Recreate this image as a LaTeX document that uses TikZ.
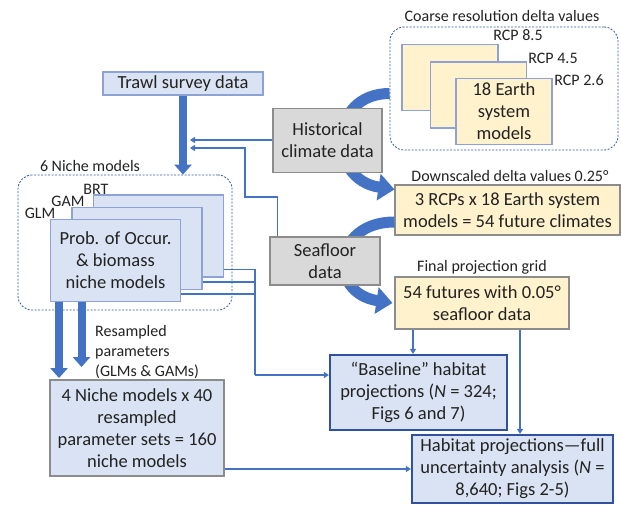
\documentclass[tikz,border=0pt]{standalone}
\usepackage{fontspec}
\setmainfont{Carlito}
\usetikzlibrary{arrows.meta}

\definecolor{nicheblue}{HTML}{DAE3F3}
\definecolor{arrowblue}{HTML}{4472C4}
\definecolor{frameblue}{HTML}{3050A0}
\definecolor{edgeblue}{HTML}{8EA2D6}
\definecolor{climgrey}{HTML}{D9D9D9}
\definecolor{edgegrey}{HTML}{8C8C8C}
\definecolor{deltayellow}{HTML}{FFF2CC}
\definecolor{inkgrey}{HTML}{222222}

\tikzset{
  box/.style={align=center, inner sep=0pt, line width=1.1pt},
  bluebox/.style={box, draw=edgeblue, fill=nicheblue},
  greybox/.style={box, draw=edgegrey, fill=climgrey},
  yellowbox/.style={box, draw=edgegrey, fill=deltayellow},
  rcpbox/.style={box, draw=edgeblue, fill=deltayellow},
  resultbox/.style={box, draw=frameblue, fill=nicheblue, line width=2.2pt},
  groupbox/.style={draw=arrowblue!80!black, dash pattern=on 2pt off 1.5pt, line width=0.8pt, rounded corners=14pt, inner sep=0pt},
  captext/.style={font=\fontsize{16}{20}\selectfont, inner sep=0pt},
  thinline/.style={draw=arrowblue, line width=1.5pt},
  thinarrow/.style={thinline, -{Triangle[length=5pt,width=6pt]}},
  fatarrow/.style={draw=arrowblue, line width=8pt, -{Triangle[length=10pt,width=17pt]}},
  bendarrow/.style={draw=arrowblue, line width=11pt, -{Triangle[length=16pt,width=26pt]}},
}

\begin{document}
\begin{tikzpicture}[x=1pt, y=-1pt, font=\fontsize{18.5}{22}\selectfont, text=inkgrey]
    \useasboundingbox (0,0) rectangle (621,505);

    % Trawl survey
    \node[bluebox, minimum width=160pt, minimum height=23pt] (trawl) at (183,83.5) {Trawl survey data};

    % Niche models
    \node[groupbox, minimum width=214pt, minimum height=135pt] (nichegroup) at (125,242.5) {};
    \node[captext] (nichecap) at (90,166) {6 Niche models};
    \foreach \n/\x/\y/\t in {brt/158.5/236/{}, gam/137/248.5/{}, glm/115.5/260.5/{Prob. of Occur.\\\& biomass\\niche models}}{
        \node[bluebox, minimum width=130pt, minimum height=82pt] (\n) at (\x,\y) {\t};
    }
    \foreach \t/\x/\y in {BRT/96/189, GAM/68/201, GLM/40/213}{
        \node[captext] (lab\t) at (\x,\y) {\t};
    }

    % Resampled
    \node[bluebox, draw=edgegrey, minimum width=174pt, minimum height=96pt] (resampled) at (137,428) {4 Niche models x 40\\resampled\\parameter sets = 160\\niche models};
    \node[captext, align=left, anchor=west] (resampcap) at (95,352) {Resampled\\parameters\\(GLMs \& GAMs)};

    % Coarse deltas
    \node[groupbox, minimum width=228pt, minimum height=123pt] (coarse) at (504,88.5) {};
    \node[captext] (coarsecap) at (502,16) {Coarse resolution delta values};
    \foreach \n/\x/\y/\t in {rcpa/450/77.5/{}, rcpb/478.5/95/{}, rcpc/504/111.5/{18 Earth\\system\\models}}{
        \node[rcpbox, minimum width=96pt, minimum height=66pt] (\n) at (\x,\y) {\t};
    }
    \foreach \t/\x/\y/\n in {8.5/518/35/a, 4.5/553/58/b, 2.6/579/80/c}{
        \node[captext] (rcplab\n) at (\x,\y) {RCP \t};
    }

    % Downscaled and final grid
    \node[yellowbox, minimum width=225pt, minimum height=50pt] (downscaled) at (507.5,210) {3 RCPs x 18 Earth system\\models = 54 future climates};
    \node[captext] (downcap) at (510,176) {Downscaled delta values 0.25°};
    \node[yellowbox, minimum width=174pt, minimum height=52pt] (final) at (482,303) {54 futures with 0.05°\\seafloor data};
    \node[captext] (finalcap) at (482,267) {Final projection grid};

    % Projections
    \node[resultbox, minimum width=177pt, minimum height=75pt] (baseline) at (418.5,392.5) {“Baseline” habitat\\projections ({\itshape N} = 324;\\Figs 6 and 7)};
    \node[resultbox, minimum width=201pt, minimum height=68pt] (habitat) at (512.5,469) {Habitat projections—full\\uncertainty analysis ({\itshape N} =\\8,640; Figs 2-5)};

    % Curved arrows, behind the grey boxes
    \draw[bendarrow] ([yshift=-5pt]coarse.west) .. controls +(-62,0) and +(-68,-10) .. ([yshift=-5pt]downscaled.north west);
    \draw[bendarrow] ([yshift=-12pt]downscaled.west) .. controls +(-62,0) and +(-65,-10) .. ([xshift=-2pt]final.west);

    % Historical and seafloor
    \node[greybox, minimum width=109pt, minimum height=64pt] (hist) at (327.5,140.5) {Historical\\climate data};
    \node[greybox, minimum width=110pt, minimum height=48pt] (seafloor) at (325,261) {Seafloor\\data};

    % Connectors
    \draw[fatarrow] (trawl.south) -- (trawl.south |- nichegroup.north);
    \coordinate (histin) at (190,140);
    \coordinate (seain) at (190,148);
    \draw[thinarrow] (hist.west |- histin) -- (histin);
    \draw[thinarrow] ([xshift=8pt]seafloor.north west) |- (245,197) |- (seain);
    \coordinate (split) at (255,375);
    \foreach \n in {brt,gam,glm}{
        \draw[thinline] ([yshift=8pt]\n.south east) -| (split);
    }
    \draw[thinarrow] (split) -- (baseline.west |- split);
    \draw[fatarrow] ([xshift=-56.5pt]glm.south) -- ++(0,76);
    \draw[fatarrow] ([xshift=-34pt]glm.south) -- ++(0,65);
    \draw[thinarrow] (resampled.east |- habitat.west) -- (habitat.west);
    \draw[thinarrow] ([xshift=-69pt]final.south) -- ([xshift=-5.5pt]baseline.north);
    \draw[thinarrow] ([xshift=38pt]final.south) -- ([xshift=7.5pt]habitat.north);
\end{tikzpicture}
\end{document}
